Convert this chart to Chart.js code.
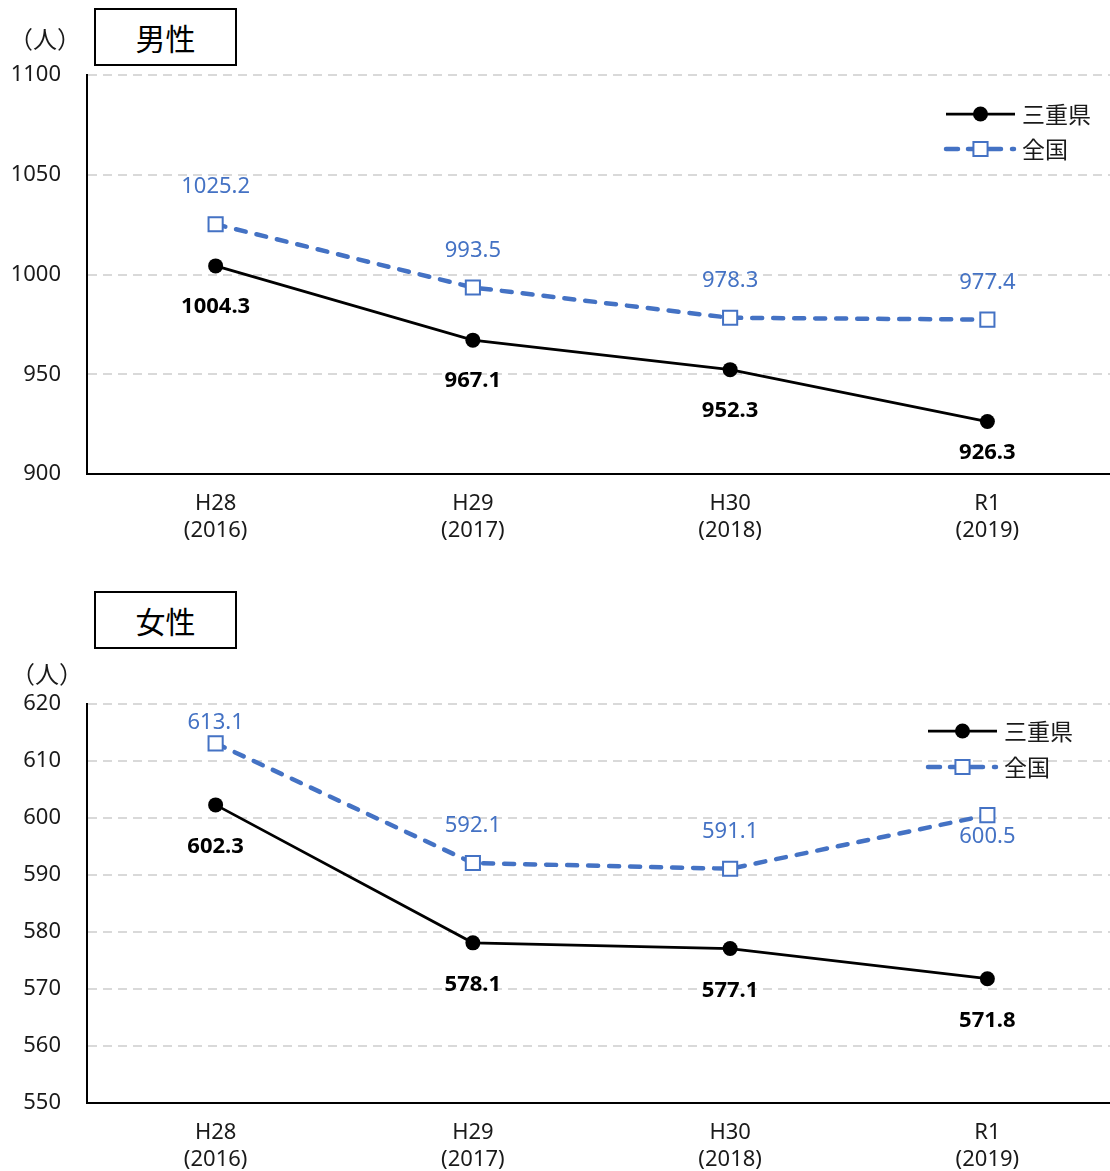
<!DOCTYPE html>
<html>
<head>
<meta charset="utf-8">
<script src="https://cdn.jsdelivr.net/npm/chart.js@4.4.1/dist/chart.umd.min.js"></script>
<style>
  html, body { margin: 0; padding: 0; background: #fff; width: 1110px; height: 1171px; overflow: hidden; }
  canvas { position: absolute; left: 0; }
  #maleChart { top: 0; }
  #femaleChart { top: 580px; }
  .box { position: absolute; left: 94px; width: 139px; height: 54px; border: 2px solid #000;
         font: 30px 'Noto Sans CJK JP', sans-serif; color: #000; background: #fff;
         display: flex; align-items: center; justify-content: center; z-index: 2; }
  .unit { position: absolute; font: 24px 'Noto Sans CJK JP', sans-serif; color: #1a1a1a;
          transform: translate(-50%, -50%); white-space: nowrap; z-index: 2; }
</style>
</head>
<body>
<canvas id="maleChart" width="1130" height="560"></canvas>
<canvas id="femaleChart" width="1130" height="591"></canvas>
<div class="box" style="top:8px;">男性</div>
<div class="box" style="top:591px;">女性</div>
<div class="unit" style="left:45px; top:37px;">（人）</div>
<div class="unit" style="left:47px; top:672px;">（人）</div>
<script>
// Fiscal-year categories
const eraLabels = ['H28', 'H29', 'H30', 'R1'];
const yearLabels = ['(2016)', '(2017)', '(2018)', '(2019)'];
const seriesNames = ['三重県', '全国'];

// Male (人)
const maleMie = [1004.3, 967.1, 952.3, 926.3];
const maleNational = [1025.2, 993.5, 978.3, 977.4];
const maleTicks = { min: 900, max: 1100, step: 50 };

// Female (人)
const femaleMie = [602.3, 578.1, 577.1, 571.8];
const femaleNational = [613.1, 592.1, 591.1, 600.5];
const femaleTicks = { min: 550, max: 620, step: 10 };

const FONT = "'Noto Sans', 'Noto Sans CJK JP', sans-serif";
const BLUE = '#4472C4';
Chart.defaults.font.family = FONT;
Chart.defaults.color = '#1a1a1a';

const categoryLabels = eraLabels.map((e, i) => [e, yearLabels[i]]);

function mieDataset(values) {
  return {
    label: seriesNames[0], data: values,
    borderColor: '#000', borderWidth: 2.75, tension: 0,
    pointStyle: 'circle', pointRadius: 7.5, pointHoverRadius: 7.5,
    pointBackgroundColor: '#000', pointBorderColor: '#000', pointBorderWidth: 0,
    clip: false
  };
}
function nationalDataset(values) {
  return {
    label: seriesNames[1], data: values,
    borderColor: BLUE, borderWidth: 4.5, borderDash: [10, 11], borderCapStyle: 'round', tension: 0,
    pointStyle: 'rect', pointRadius: 10, pointHoverRadius: 10,
    pointBackgroundColor: '#fff', pointBorderColor: BLUE, pointBorderWidth: 2,
    clip: false
  };
}

// Value labels next to each point
const valueLabels = {
  id: 'valueLabels',
  afterDatasetsDraw(chart, args, opts) {
    const ctx = chart.ctx;
    chart.data.datasets.forEach((ds, i) => {
      const meta = chart.getDatasetMeta(i);
      const st = opts.styles[i];
      meta.data.forEach((pt, j) => {
        ctx.save();
        ctx.font = st.font;
        ctx.fillStyle = st.color;
        ctx.textAlign = 'center';
        ctx.textBaseline = 'middle';
        ctx.fillText(ds.data[j].toFixed(1), pt.x, pt.y + st.offsets[j]);
        ctx.restore();
      });
    });
  }
};

// Legend drawn as line + marker samples, in the upper right of the plot
const dashedSample = [[0, 12], [22, 27], [41, 55], [66, 68]];
const sampleLegend = {
  id: 'sampleLegend',
  afterDraw(chart, args, opts) {
    const ctx = chart.ctx;
    chart.data.datasets.forEach((ds, i) => {
      const y = opts.y[i];
      const cx = (opts.x0 + opts.x1) / 2;
      ctx.save();
      ctx.strokeStyle = ds.borderColor;
      ctx.lineWidth = ds.borderWidth;
      ctx.lineCap = ds.borderCapStyle || 'butt';
      ctx.beginPath();
      if (ds.borderDash) {
        dashedSample.forEach(([a, b]) => {
          ctx.moveTo(opts.x0 + a, y);
          ctx.lineTo(opts.x0 + b, y);
        });
      } else {
        ctx.moveTo(opts.x0, y); ctx.lineTo(opts.x1, y);
      }
      ctx.stroke();
      ctx.restore();
      ctx.save();
      ctx.fillStyle = ds.pointBackgroundColor;
      ctx.strokeStyle = ds.pointBorderColor;
      ctx.lineWidth = ds.pointBorderWidth;
      Chart.helpers.drawPoint(ctx, {
        pointStyle: ds.pointStyle, radius: ds.pointRadius, borderWidth: ds.pointBorderWidth, rotation: 0
      }, cx, y);
      ctx.restore();
      ctx.save();
      ctx.font = "23px 'Noto Sans CJK JP', sans-serif";
      ctx.fillStyle = '#1a1a1a';
      ctx.textAlign = 'left';
      ctx.textBaseline = 'middle';
      ctx.fillText(ds.label, opts.textX, y);
      ctx.restore();
    });
  }
};

function makeChart(id, mie, national, ticks, area, labelOffsets, legendPos) {
  const canvas = document.getElementById(id);
  const H = canvas.height;
  return new Chart(canvas, {
    type: 'line',
    data: { labels: categoryLabels, datasets: [mieDataset(mie), nationalDataset(national)] },
    options: {
      responsive: false, animation: false, events: [],
      layout: { padding: { top: area.top, left: 0, right: 14, bottom: 0 } },
      plugins: {
        legend: { display: false }, tooltip: { enabled: false },
        valueLabels: {
          styles: [
            { font: `bold 22px ${FONT}`, color: '#000', offsets: labelOffsets[0] },
            { font: `22px ${FONT}`, color: BLUE, offsets: labelOffsets[1] }
          ]
        },
        sampleLegend: legendPos
      },
      scales: {
        x: {
          offset: true,
          grid: { drawOnChartArea: false, drawTicks: false },
          border: { display: true, color: '#000', width: 2 },
          ticks: { font: { size: 22, lineHeight: 1.2 }, padding: 17, color: '#1a1a1a', maxRotation: 0 },
          afterFit(scale) { scale.height = H - area.bottom; }
        },
        y: {
          min: ticks.min, max: ticks.max,
          grid: { color: '#d9d9d9', lineWidth: 2, drawTicks: false },
          border: { display: true, color: '#000', width: 2, dash: [9, 6] },
          ticks: { stepSize: ticks.step, font: { size: 22 }, padding: 26, color: '#1a1a1a',
                   callback: (v) => String(v) },
          afterFit(scale) { scale.width = 87; }
        }
      }
    },
    plugins: [valueLabels, sampleLegend]
  });
}

makeChart('maleChart', maleMie, maleNational, maleTicks,
  { top: 75, bottom: 474 },
  [[41, 41, 41, 31], [-37, -37, -37, -37]],
  { x0: 946, x1: 1015, y: [114, 149], textX: 1022 });

makeChart('femaleChart', femaleMie, femaleNational, femaleTicks,
  { top: 124, bottom: 523 },
  [[42, 42, 42, 42], [-21, -37, -37, 22]],
  { x0: 928, x1: 997, y: [151, 187], textX: 1004 });
</script>
</body>
</html>
